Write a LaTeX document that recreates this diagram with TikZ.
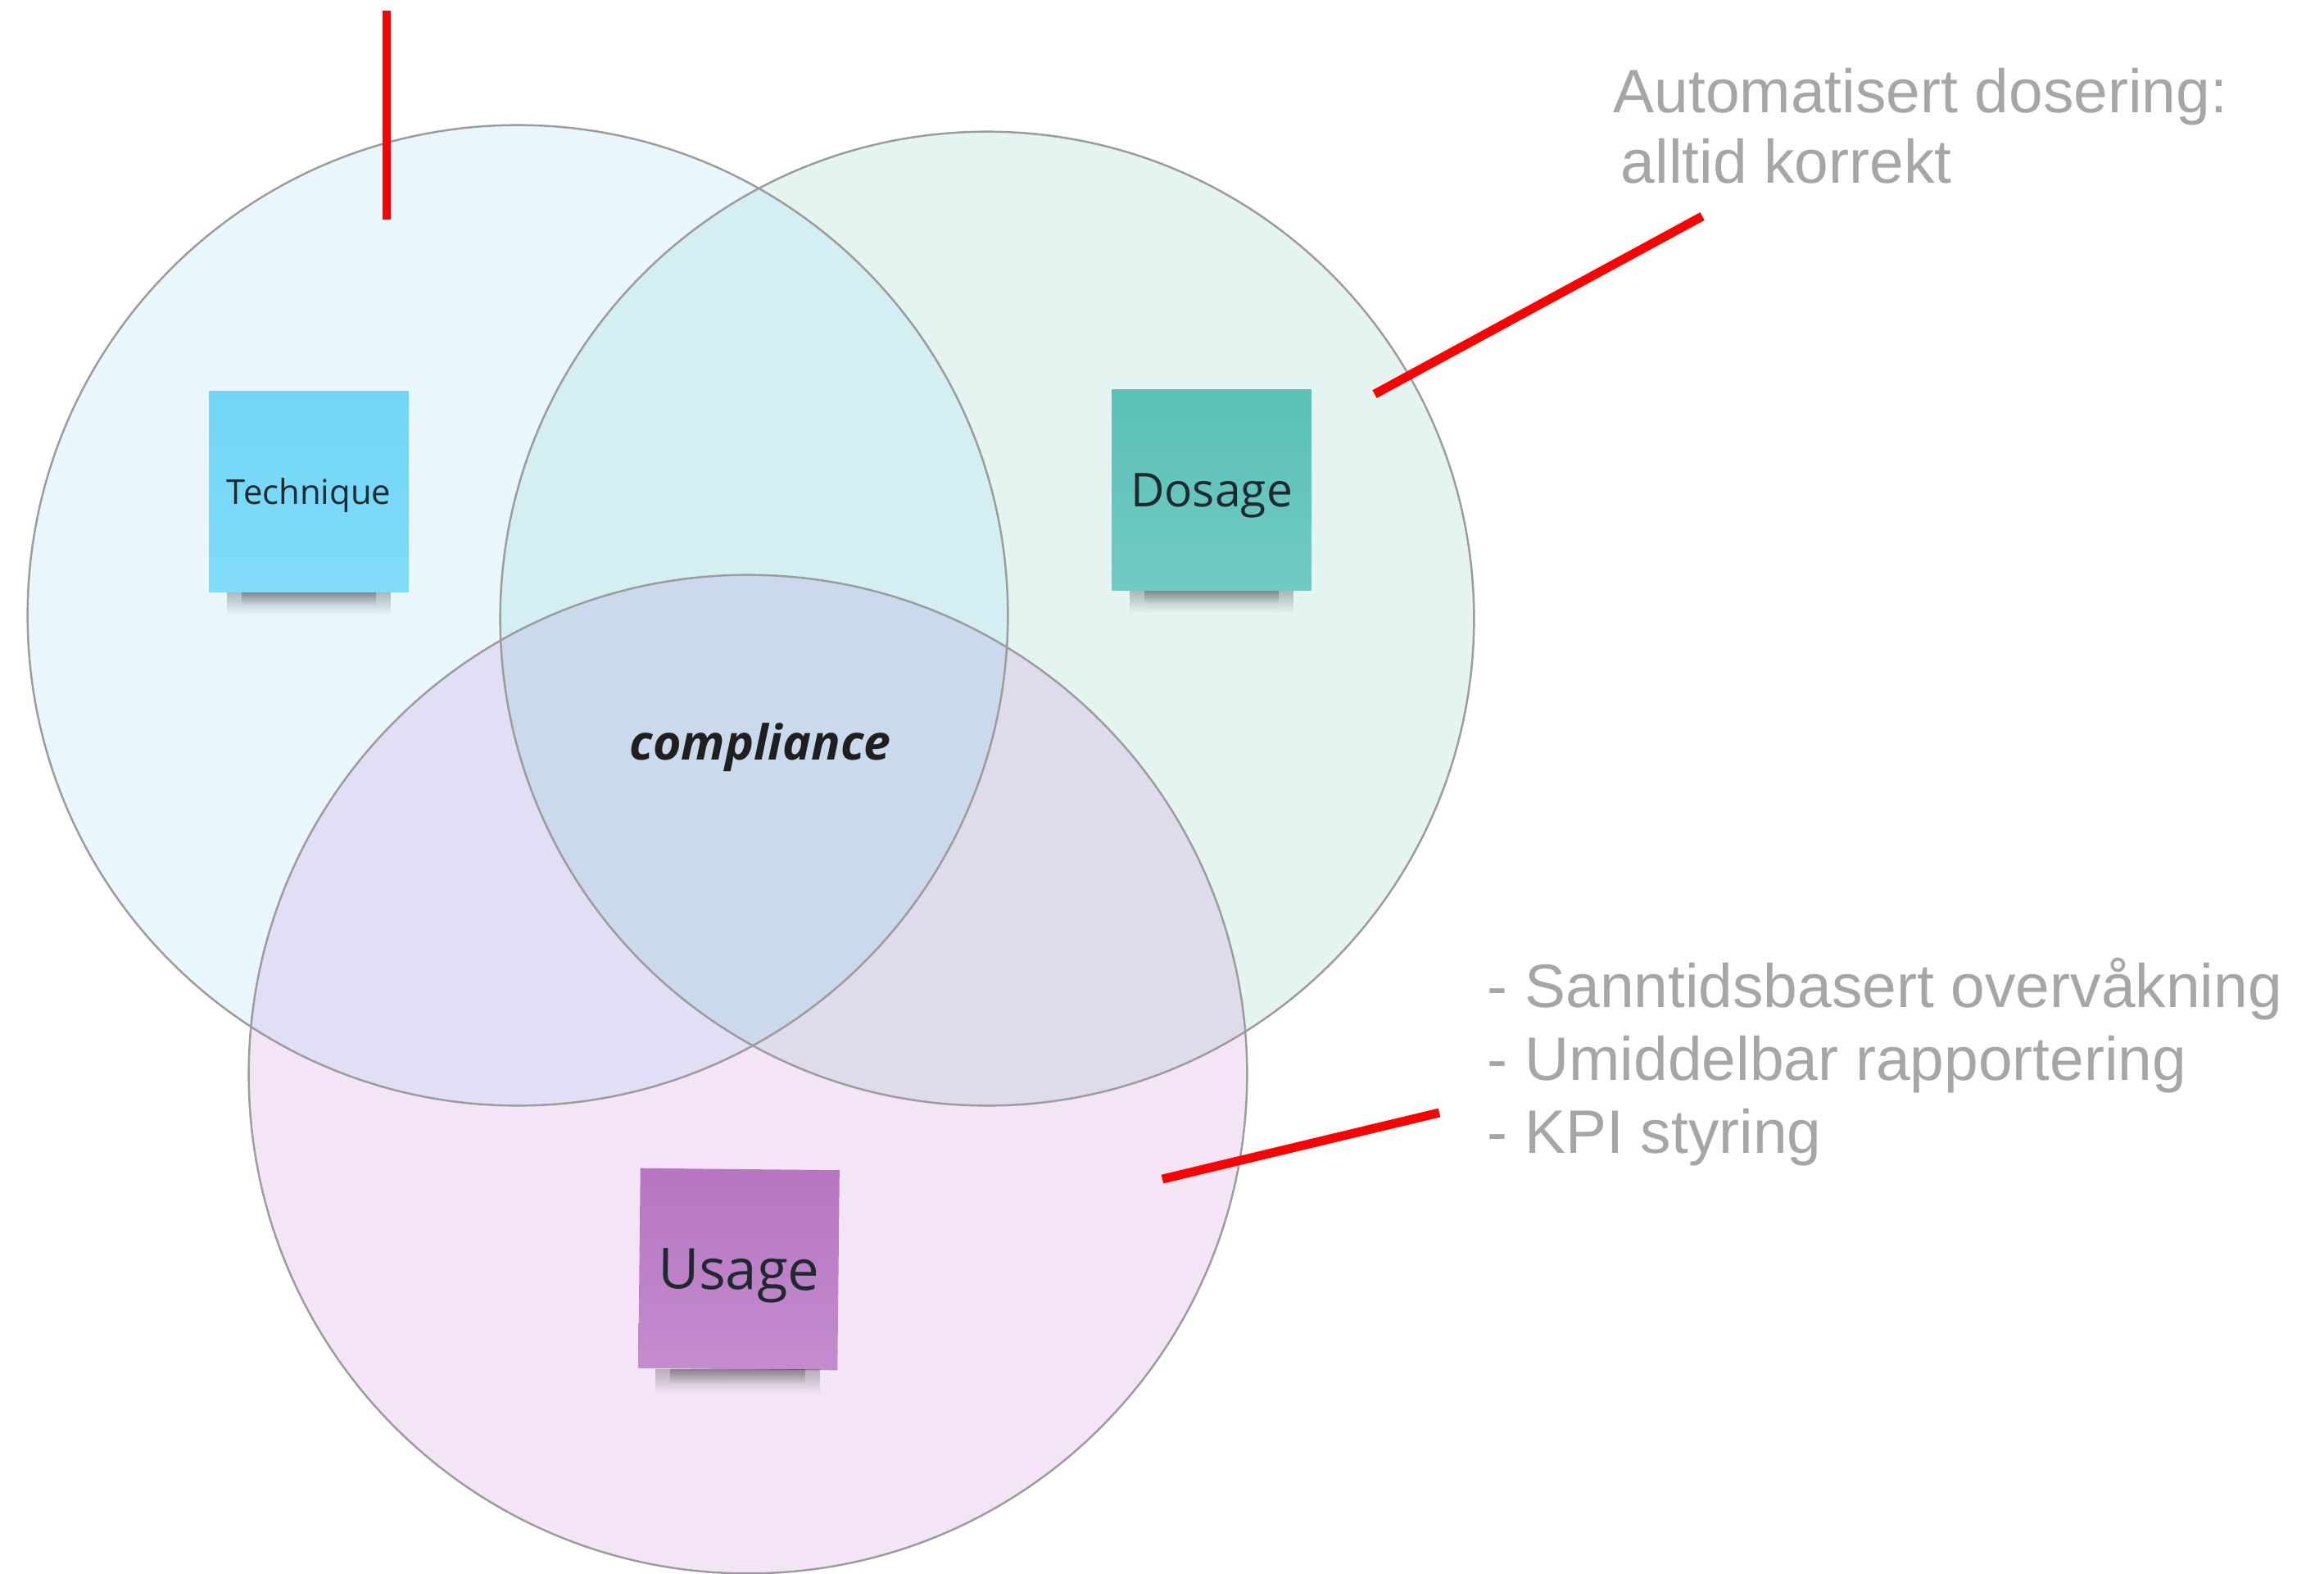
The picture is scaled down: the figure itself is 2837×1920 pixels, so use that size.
\documentclass[tikz,border=0pt]{standalone}
\usepackage{fontspec}
\setmainfont{Liberation Sans}
\newfontfamily\notefont{Open Sans}
\usepackage{xcolor}
\usetikzlibrary{positioning,calc,fadings}

\definecolor{techfill}{HTML}{E9F6FC}
\definecolor{dosefill}{HTML}{E4F5F1}
\definecolor{usefill}{HTML}{F3E5F6}
\definecolor{tdfill}{HTML}{D3EFF2}
\definecolor{tufill}{HTML}{E1DFF5}
\definecolor{dufill}{HTML}{DEDCEA}
\definecolor{allfill}{HTML}{CBD9EC}
\definecolor{ringgray}{HTML}{9C9C9C}
\definecolor{remarkgray}{HTML}{A6A6A6}
\definecolor{notetext}{HTML}{1E2A2E}
\definecolor{techtop}{HTML}{72D5F7}
\definecolor{techbot}{HTML}{80DCF9}
\definecolor{dosetop}{HTML}{5BC0B8}
\definecolor{dosebot}{HTML}{6FCBC3}
\definecolor{usetop}{HTML}{B775C2}
\definecolor{usebot}{HTML}{C48CCE}

\begin{document}
\begin{tikzpicture}[x=0.01cm,y=-0.01cm,line join=round,
  ring/.style={draw=ringgray,line width=0.7pt},
  sticky/.style={minimum width=2.43cm,minimum height=2.44cm,inner sep=0pt,text depth=0pt,text=notetext},
  shade under/.style={fill=black,opacity=0.25,path fading=south},
  remark/.style={text=remarkgray,font=\fontsize{21.3}{25}\selectfont,inner sep=0pt,anchor=base west},
  pointer/.style={red,line width=3.1pt}]

  % sizes
  \def\rT{5.98cm}  % technique radius
  \def\rD{5.94cm}  % dosage radius
  \def\rU{6.09cm}  % usage radius

  \useasboundingbox (0,0) rectangle (2837,1920);

  % centres
  \coordinate (cT) at (632,751);
  \coordinate (cD) at (1205,755);
  \coordinate (cU) at (913,1311);

  % plain discs
  \fill[techfill] (cT) circle (\rT);
  \fill[dosefill] (cD) circle (\rD);
  \fill[usefill] (cU) circle (\rU);

  % overlaps
  \begin{scope}
    \clip (cD) circle (\rD);
    \fill[dufill] (cU) circle (\rU);
  \end{scope}
  \begin{scope}
    \clip (cT) circle (\rT);
    \fill[tdfill] (cD) circle (\rD);
    \fill[tufill] (cU) circle (\rU);
    \clip (cD) circle (\rD);
    \fill[allfill] (cU) circle (\rU);
  \end{scope}

  % outlines
  \draw[ring] (cT) circle (\rT);
  \draw[ring] (cD) circle (\rD);
  \draw[ring] (cU) circle (\rU);

  % sticky notes
  \node[sticky,top color=techtop,bottom color=techbot,
        font=\notefont\fontsize{11.9}{14}\selectfont] (tech) at (377,600) {Technique};
  \node[sticky,top color=dosetop,bottom color=dosebot,
        font=\notefont\fontsize{16.2}{19}\selectfont] (dose) at (1479,598) {Dosage};
  \node[sticky,rotate=-0.6,top color=usetop,bottom color=usebot,
        font=\notefont\fontsize{19.5}{22}\selectfont] (use) at (902,1549) {Usage};

  % shadows under the notes
  \foreach \nn in {tech,dose,use}{
    \fill[shade under] ($(\nn.south west)+(22,0)$) rectangle ($(\nn.south east)+(-22,28)$);
    \fill[shade under] ($(\nn.south west)+(40,0)$) rectangle ($(\nn.south east)+(-40,16)$);
  }

  % centre label
  \node[font=\notefont\bfseries\itshape\fontsize{16.8}{20}\selectfont,text=black!88,anchor=base] (comp) at (928,927) {compliance};

  % remarks
  \node[remark] (dose1) at (1969,137) {Automatisert dosering:};
  \node[remark] (dose2) at (1978,223) {alltid korrekt};
  \foreach \txt [count=\i] in {- Sanntidsbasert overvåkning,- Umiddelbar rapportering,- KPI styring}{
    \node[remark] (use\i) at (1815,{1229+89*(\i-1)}) {\txt};
  }

  % red pointers
  \coordinate (p1a) at (472,13);
  \coordinate (p1b) at (472,268);
  \coordinate (p2a) at (1678,481);
  \coordinate (p2b) at (2078,264);
  \coordinate (p3a) at (1419,1439);
  \coordinate (p3b) at (1757,1358);
  \draw[pointer] (p1a) -- (p1b);
  \draw[pointer] (p2a) -- (p2b);
  \draw[pointer] (p3a) -- (p3b);

\end{tikzpicture}
\end{document}
